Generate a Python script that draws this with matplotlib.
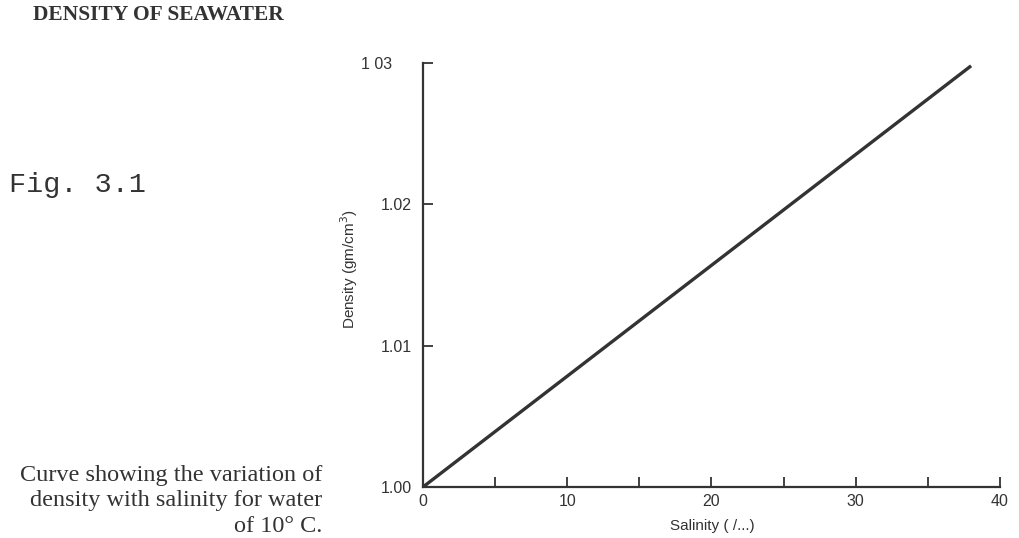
import matplotlib.pyplot as plt
import matplotlib.transforms as mtransforms

# density of seawater at 10 C against salinity (straight-line fit)
salinity = [0, 38]
density = [1.000, 1.0298]

x_ticks = [0, 5, 10, 15, 20, 25, 30, 35, 40]
x_labels = ["0", "", "10", "", "20", "", "30", "", "40"]
y_ticks = [1.00, 1.01, 1.02, 1.03]
y_labels = ["1.00", "1.01", "1.02", "1 03"]

INK = "#333333"

fig = plt.figure(figsize=(10.19, 5.38), dpi=100)
ax = fig.add_axes([0.4151, 0.0948, 0.5662, 0.7881])

ax.plot(salinity, density, color=INK, lw=2.4, solid_capstyle="butt")

ax.set_xlim(0, 40)
ax.set_ylim(1.00, 1.03)
ax.spines[["top", "right"]].set_visible(False)
for s in ["left", "bottom"]:
    ax.spines[s].set_color(INK)
    ax.spines[s].set_linewidth(1.6)

ax.set_xticks(x_ticks)
ax.set_xticklabels(x_labels)
ax.set_yticks(y_ticks)
ax.set_yticklabels(y_labels)
ax.tick_params(direction="in", length=7, width=1.3, colors=INK, pad=5)
ax.tick_params(axis="x", labelsize=11.5)
ax.tick_params(axis="y", labelsize=11.5, pad=8)
for lab in ax.get_xticklabels() + ax.get_yticklabels():
    lab.set_fontfamily("Liberation Sans")

# top label sits a little further out
top = ax.get_yticklabels()[-1]
top.set_transform(top.get_transform() +
                  mtransforms.ScaledTranslation(-0.2, 0, fig.dpi_scale_trans))

ax.set_xlabel("Salinity ( /...)", fontsize=11, family="Liberation Sans",
              color=INK)
ax.xaxis.set_label_coords(0.502, -0.075)
ax.set_ylabel("Density (gm/cm$^3$)", fontsize=11, family="Liberation Sans",
              color=INK)
ax.yaxis.set_label_coords(-0.11, 0.514)

fig.text(0.032, 0.972, "DENSITY OF SEAWATER", fontsize=15.5,
         family="Liberation Serif", weight="bold", color=INK,
         va="center", ha="left")
fig.text(0.009, 0.656, "Fig. 3.1", fontsize=20.5, family="Liberation Mono",
         color=INK, va="center", ha="left")
fig.text(0.316, 0.069,
         "Curve showing the variation of\n"
         "density with salinity for water\n"
         "of 10\u00b0 C.",
         fontsize=17.5, family="Liberation Serif", color=INK,
         ha="right", va="center", multialignment="right", linespacing=1.3)

fig.savefig("out.png", dpi=100, facecolor="white")
